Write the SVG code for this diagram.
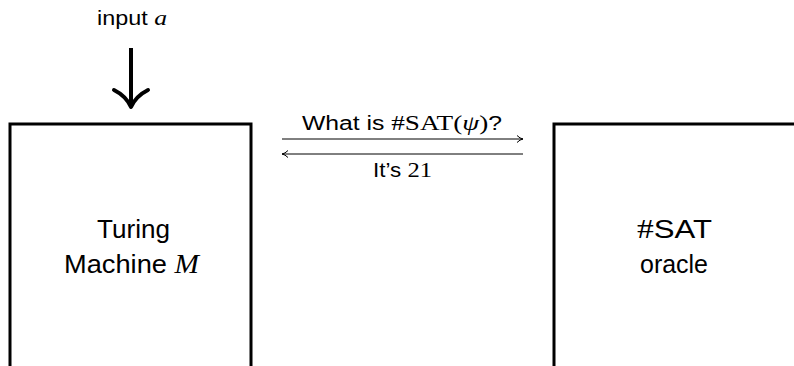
<svg xmlns="http://www.w3.org/2000/svg" width="794" height="366" viewBox="0 0 794 366">
<style>
.box{fill:#fff;stroke:#000;stroke-width:3}
.t{font-family:"Liberation Sans","DejaVu Sans",sans-serif;fill:#000}
.m{font-family:"Liberation Serif","DejaVu Serif",serif}
.mi{font-family:"Liberation Serif","DejaVu Serif",serif;font-style:italic}
.big{font-size:26px}
.sm{font-size:20px}
.ln{stroke:#000;stroke-width:1;fill:none}
</style>
<defs>
<marker id="ah" markerWidth="10" markerHeight="10" refX="8" refY="5" orient="auto" markerUnits="userSpaceOnUse">
<path d="M2,1.5 Q5,4.5 8,5 Q5,5.5 2,8.5" fill="none" stroke="#000" stroke-width="1"/>
</marker>
</defs>
<g id="input">
<text class="t sm" x="97" y="25" textLength="70" lengthAdjust="spacingAndGlyphs">input <tspan class="mi" font-size="22">a</tspan></text>
</g>
<g id="tm">
<rect class="box" x="10" y="124" width="241" height="260"/>
<text class="t big" x="97" y="238" textLength="73" lengthAdjust="spacingAndGlyphs">Turing</text>
<text class="t big" x="64" y="273" textLength="135" lengthAdjust="spacingAndGlyphs">Machine <tspan class="mi" font-size="28">M</tspan></text>
</g>
<g id="oracle">
<rect class="box" x="554" y="124" width="260" height="260"/>
<text class="t big" x="637" y="238" textLength="75" lengthAdjust="spacingAndGlyphs"><tspan class="m" font-size="28">#</tspan>SAT</text>
<text class="t big" x="640" y="273" textLength="68" lengthAdjust="spacingAndGlyphs">oracle</text>
</g>
<g id="connectors">
<line x1="131" y1="48" x2="131" y2="105" stroke="#000" stroke-width="4"/>
<path d="M114,90 Q126,96 131,107 Q136,96 148,90" fill="none" stroke="#000" stroke-width="4" stroke-linejoin="round" stroke-linecap="round"/>
<line class="ln" x1="282" y1="139" x2="523" y2="139" marker-end="url(#ah)"/>
<line class="ln" x1="523" y1="154" x2="282" y2="154" marker-end="url(#ah)"/>
<text class="t sm" x="302" y="130" textLength="200" lengthAdjust="spacingAndGlyphs">What is <tspan class="m" font-size="22">#SAT(</tspan><tspan class="mi" font-size="22">ψ</tspan><tspan class="m" font-size="22">)</tspan>?</text>
<text class="t sm" x="373" y="177" textLength="59" lengthAdjust="spacingAndGlyphs">It’s <tspan class="m" font-size="22">21</tspan></text>
</g>
</svg>
